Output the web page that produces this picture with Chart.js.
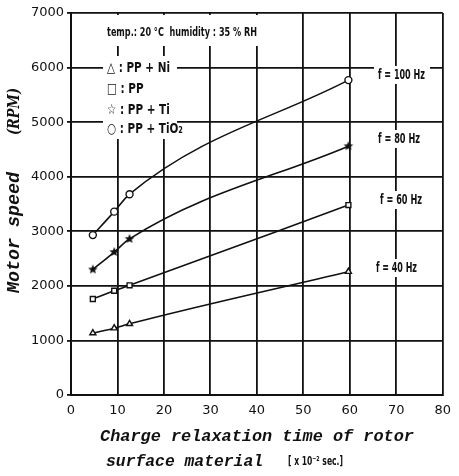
<!DOCTYPE html>
<html lang="en">
<head>
    <meta charset="UTF-8">
    <title>Motor speed vs charge relaxation time</title>
    <script src="https://cdn.jsdelivr.net/npm/chart.js"></script>
    <style>
        html, body { margin: 0; padding: 0; background: #fff; }
        #wrap { width: 459px; height: 476px; }
    </style>
</head>
<body>
    <div id="wrap"><canvas id="chart" width="459" height="476"></canvas></div>

    <script>
        // Values
        const relaxTimes = [4.7, 9.3, 12.6, 59.7];      // x 10^-2 sec
        const speed100Hz = [2930, 3360, 3680, 5770];    // RPM
        const speed80Hz  = [2300, 2620, 2860, 4560];
        const speed60Hz  = [1760, 1910, 2010, 3480];
        const speed40Hz  = [1135, 1225, 1305, 2260];
        const seriesNames = ['f = 100 Hz', 'f = 80 Hz', 'f = 60 Hz', 'f = 40 Hz'];
        const xTicks = [0, 10, 20, 30, 40, 50, 60, 70, 80];
        const yTicks = [0, 1000, 2000, 3000, 4000, 5000, 6000, 7000];
        const conditionText = 'temp.: 20 °C  humidity : 35 % RH';
        const materialKey = ['△ : PP + Ni', '□ : PP', '☆ : PP + Ti', '○ : PP + TiO₂'];

        const INK = '#111';

        // small filled star used as a point marker
        function makeStar(r) {
            const c = document.createElement('canvas');
            c.width = c.height = r * 2 + 2;
            const g = c.getContext('2d');
            g.translate(r + 1, r + 1);
            g.beginPath();
            for (let i = 0; i < 10; i++) {
                const rad = i % 2 ? r * 0.45 : r;
                const ang = -Math.PI / 2 + i * Math.PI / 5;
                g.lineTo(Math.cos(ang) * rad, Math.sin(ang) * rad);
            }
            g.closePath();
            g.fillStyle = INK;
            g.fill();
            return c;
        }

        // draw text with a horizontal squeeze factor, left aligned, middle baseline
        function squeezeText(ctx, text, x, y, sx, font) {
            ctx.save();
            ctx.font = font;
            ctx.translate(x, y);
            ctx.scale(sx, 1);
            ctx.textAlign = 'left';
            ctx.textBaseline = 'middle';
            ctx.fillStyle = INK;
            ctx.fillText(text, 0, 0);
            ctx.restore();
        }

        // same, but squeezed so the text takes a given width
        function fitText(ctx, text, x, y, width, font) {
            ctx.save();
            ctx.font = font;
            const w = ctx.measureText(text).width;
            ctx.restore();
            squeezeText(ctx, text, x, y, width / w, font);
        }

        function toPoints(ys) {
            return relaxTimes.map((x, i) => ({ x: x, y: ys[i] }));
        }

        // text placement (canvas pixels): [left, middle y]
        const keyPlaces = [[107, 68], [107, 89], [107, 110], [107, 129]];
        const seriesPlaces = [[378, 75, 47], [378, 139, 42], [380, 200, 42], [376, 268, 41]];
        const KEY_FONT = 'bold 14px "DejaVu Sans"';

        const annotations = {
            id: 'annotations',
            beforeDatasetsDraw(chart) {
                const ctx = chart.ctx;
                ctx.save();
                // white patches where the text interrupts the grid
                ctx.fillStyle = '#fff';
                ctx.fillRect(103, 15, 156, 31);
                ctx.fillRect(103, 56, 74, 83);
                seriesPlaces.forEach(([x, y, w]) => ctx.fillRect(x - 4, y - 9, w + 9, 18));
                ctx.font = KEY_FONT;
                const keyScale = 63 / ctx.measureText(materialKey[0]).width;
                ctx.restore();

                fitText(ctx, conditionText, 107, 33, 150, 'bold 13px "DejaVu Sans"');
                materialKey.forEach((t, i) => {
                    const [x, y] = keyPlaces[i];
                    squeezeText(ctx, t, x, y, keyScale, KEY_FONT);
                });
                seriesNames.forEach((t, i) => {
                    const [x, y, w] = seriesPlaces[i];
                    fitText(ctx, t, x, y, w, 'bold 14px "DejaVu Sans"');
                });
            },
            afterDraw(chart) {
                const ctx = chart.ctx;
                // x axis title
                fitText(ctx, 'Charge relaxation time of rotor', 100, 437, 314, 'bold italic 17px "Liberation Mono"');
                fitText(ctx, 'surface material', 106, 462, 157, 'bold italic 17px "Liberation Mono"');
                fitText(ctx, '[ x 10⁻² sec.]', 288, 462, 55, 'bold 12px "DejaVu Sans"');
                // y axis title, rotated
                ctx.save();
                ctx.translate(14, 293);
                ctx.rotate(-Math.PI / 2);
                fitText(ctx, 'Motor speed', 0, 0, 121, 'bold italic 18px "Liberation Mono"');
                ctx.restore();
                ctx.save();
                ctx.translate(15, 135);
                ctx.rotate(-Math.PI / 2);
                fitText(ctx, '(RPM)', 0, 0, 47, 'bold italic 17px "DejaVu Serif"');
                ctx.restore();
            }
        };

        function series(data, style, fill) {
            return {
                data: toPoints(data),
                borderColor: INK,
                borderWidth: 1.6,
                cubicInterpolationMode: 'monotone',
                pointStyle: style,
                pointRadius: 3.5,
                pointBorderWidth: 1.4,
                pointBorderColor: INK,
                pointBackgroundColor: fill,
                fill: false
            };
        }

        new Chart(document.getElementById('chart').getContext('2d'), {
            type: 'line',
            data: {
                datasets: [
                    series(speed100Hz, 'circle', '#fff'),
                    series(speed80Hz, makeStar(5), INK),
                    series(speed60Hz, 'rect', '#fff'),
                    series(speed40Hz, 'triangle', '#fff')
                ]
            },
            options: {
                responsive: false,
                animation: false,
                layout: { autoPadding: false, padding: { left: 0, top: 13, right: 7, bottom: 0 } },
                plugins: { legend: { display: false }, tooltip: { enabled: false } },
                scales: {
                    x: {
                        type: 'linear',
                        min: xTicks[0],
                        max: xTicks[xTicks.length - 1],
                        ticks: {
                            stepSize: xTicks[1] - xTicks[0],
                            color: INK,
                            padding: 8,
                            font: { family: 'DejaVu Sans', size: 13 },
                            callback: v => String(v)
                        },
                        grid: { color: INK, lineWidth: 1.8, drawTicks: false },
                        border: { color: INK, width: 2 },
                        afterFit: s => { s.height = 81; }
                    },
                    y: {
                        min: yTicks[0],
                        max: yTicks[yTicks.length - 1],
                        ticks: {
                            stepSize: yTicks[1] - yTicks[0],
                            color: INK,
                            padding: 3,
                            font: { family: 'DejaVu Sans', size: 13 },
                            callback: v => String(v)
                        },
                        grid: { color: INK, lineWidth: 1.8, tickLength: 4 },
                        border: { color: INK, width: 2 },
                        afterFit: s => { s.width = 71; }
                    }
                }
            },
            plugins: [annotations]
        });
    </script>
</body>
</html>
